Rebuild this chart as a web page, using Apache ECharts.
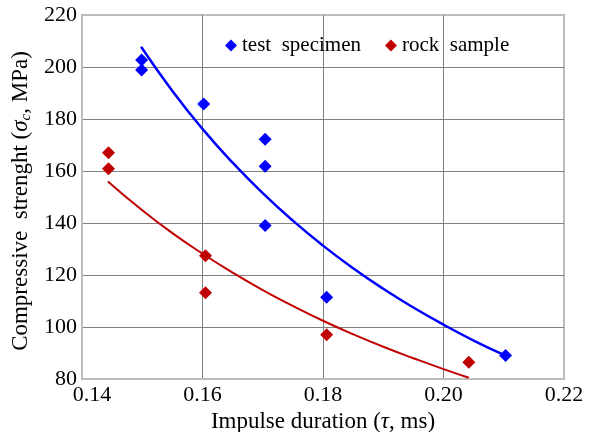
<!DOCTYPE html>
<html>
<head>
<meta charset="utf-8">
<script src="https://cdn.jsdelivr.net/npm/echarts@6/dist/echarts.min.js"></script>
<style>
    html, body { margin: 0; padding: 0; background: #fff; }
    #chart { width: 591px; height: 432px; }
</style>
</head>
<body>
<div id="chart"></div>
<script>
// measured points
const testX = [0.1499, 0.1499, 0.1602, 0.1704, 0.1704, 0.1704, 0.1806, 0.2103]
const testY = [202.7, 198.8, 185.8, 172.2, 161.8, 139.0, 111.4, 89.0]
const rockX = [0.1444, 0.1444, 0.1605, 0.1605, 0.1806, 0.2042]
const rockY = [167.0, 160.9, 127.4, 113.2, 97.0, 86.4]

// trend curves
const testFitX = [0.1498, 0.155, 0.16, 0.165, 0.17, 0.175, 0.18, 0.185, 0.19, 0.195, 0.20, 0.205, 0.2103]
const testFitY = [207.8, 190.8, 176.2, 163.2, 151.5, 140.9, 131.3, 122.6, 114.7, 107.5, 100.9, 94.8, 89.0]
const rockFitX = [0.1443, 0.15, 0.155, 0.16, 0.165, 0.17, 0.175, 0.18, 0.185, 0.19, 0.195, 0.20, 0.2042]
const rockFitY = [156.0, 144.9, 136.1, 128.2, 120.9, 114.2, 108.1, 102.4, 97.2, 92.4, 88.0, 83.8, 80.5]

const xTicks = [0.14, 0.16, 0.18, 0.20, 0.22]
const yTicks = [80, 100, 120, 140, 160, 180, 200, 220]

const FONT = 'Liberation Serif'
const BLUE = '#0000ff'
const RED = '#c00000'

function zip(xs, ys) {
    return xs.map((x, i) => [x, ys[i]])
}

function serif(size, italic) {
    return {
        fontFamily: FONT,
        fontSize: size,
        fontStyle: italic ? 'italic' : 'normal',
        color: '#000',
    }
}

const chart = echarts.init(document.getElementById('chart'))

const option = {
    animation: false,
    grid: {
        left: 82,
        top: 15,
        right: 27,
        bottom: 53,
        containLabel: false,
        outerBoundsMode: 'none',
        show: true,
        borderColor: '#bdbdbd',
        borderWidth: 2,
    },
    legend: {
        data: ['test specimen', 'rock sample'],
        top: 30,
        left: 220,
        icon: 'diamond',
        itemWidth: 12,
        itemHeight: 12,
        itemGap: 24,
        formatter: name => '{a|' + name.replace(' ', '  ') + '}',
        textStyle: {
            rich: { a: serif(21) },
        },
    },
    xAxis: {
        type: 'value',
        min: xTicks[0],
        max: xTicks[xTicks.length - 1],
        interval: 0.02,
        name: '{a|Impulse duration (}{i|τ}{a|, ms)}',
        nameLocation: 'middle',
        nameGap: 19,
        nameTextStyle: {
            rich: { a: serif(23), i: serif(23, true) },
        },
        axisLine: { show: true, lineStyle: { color: '#bdbdbd', width: 2 } },
        axisTick: { show: false },
        axisLabel: {
            margin: 5,
            // first label sits a bit to the right, clear of "80"
            formatter: v => v === xTicks[0]
                ? '{f|' + v.toFixed(2) + '}'
                : '{a|' + v.toFixed(2) + '}',
            rich: {
                a: serif(22),
                f: Object.assign(serif(22), { padding: [0, 0, 0, 20] }),
            },
        },
        splitLine: {
            show: true,
            showMinLine: false,
            showMaxLine: false,
            lineStyle: { color: '#808080', width: 1 },
        },
    },
    yAxis: {
        type: 'value',
        min: yTicks[0],
        max: yTicks[yTicks.length - 1],
        interval: 20,
        name: '{a|Compressive  strenght (}{i|σ}{s|c}{a|, MPa)}',
        nameLocation: 'middle',
        nameGap: 39,
        nameRotate: 90,
        nameTextStyle: {
            padding: [0, 8, 0, 0],
            rich: {
                a: serif(23),
                i: serif(23, true),
                s: Object.assign(serif(15, true), { padding: [9, 0, 0, 0] }),
            },
        },
        axisLine: { show: true, lineStyle: { color: '#bdbdbd', width: 2 } },
        axisTick: { show: false },
        axisLabel: {
            margin: 5,
            formatter: v => '{a|' + v + '}',
            rich: { a: serif(22) },
        },
        splitLine: {
            show: true,
            showMinLine: false,
            showMaxLine: false,
            lineStyle: { color: '#808080', width: 1 },
        },
    },
    series: [
        {
            name: 'test fit',
            type: 'line',
            data: zip(testFitX, testFitY),
            smooth: true,
            showSymbol: false,
            lineStyle: { color: BLUE, width: 2.5 },
            z: 2,
        },
        {
            name: 'rock fit',
            type: 'line',
            data: zip(rockFitX, rockFitY),
            smooth: true,
            showSymbol: false,
            lineStyle: { color: RED, width: 2 },
            z: 2,
        },
        {
            name: 'test specimen',
            type: 'scatter',
            data: zip(testX, testY),
            symbol: 'diamond',
            symbolSize: 13,
            itemStyle: { color: BLUE, opacity: 1 },
            z: 3,
        },
        {
            name: 'rock sample',
            type: 'scatter',
            data: zip(rockX, rockY),
            symbol: 'diamond',
            symbolSize: 13,
            itemStyle: { color: RED, opacity: 1 },
            z: 3,
        },
    ],
}

chart.setOption(option)
</script>
</body>
</html>
